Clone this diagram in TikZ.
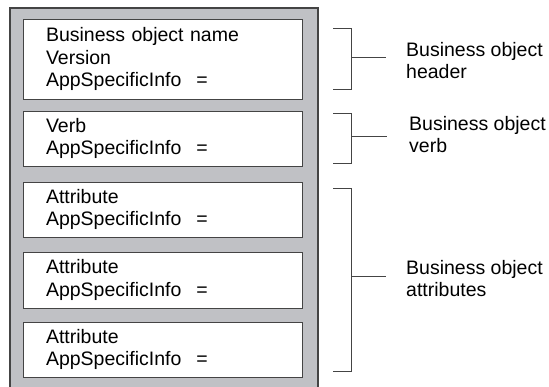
\documentclass[tikz,border=0pt]{standalone}
\usepackage{fontspec}
\setmainfont{Liberation Sans}
\usetikzlibrary{positioning}
\definecolor{panelgray}{RGB}{192,193,197}
\definecolor{linegray}{RGB}{68,68,68}
\tikzset{
  fieldbox/.style={draw=linegray,line width=1pt,fill=white,minimum width=279pt,
    text width=233pt,inner xsep=23pt,inner ysep=0pt,align=left,
    font=\fontsize{19.5}{22.5}\selectfont},
  sidelabel/.style={anchor=west,inner sep=0pt,align=left,
    font=\fontsize{19.5}{22}\selectfont},
  brace/.style={draw=linegray,line width=1pt}
}
\newcommand{\appinfo}{AppSpecificInfo\hspace{15pt}=}
\begin{document}
\begin{tikzpicture}[x=1pt,y=-1pt]
      \useasboundingbox (0,0) rectangle (549,386);
      %% Gray panel
      \fill[panelgray,draw=linegray,line width=1.3pt] (10,400) -- (10,8) -- (318,8) -- (318,400);
      %% Fields
      \node[fieldbox,minimum height=80pt] (hdr) at (162.5,59) {Business object name\\Version\\\appinfo};
      \node[fieldbox,minimum height=55pt,below=11pt of hdr] (verb) {Verb\\\appinfo};
      \node[fieldbox,minimum height=55pt,below=15pt of verb] (att1) {Attribute\\\appinfo};
      \node[fieldbox,minimum height=56pt,below=14pt of att1] (att2) {Attribute\\\appinfo};
      \node[fieldbox,minimum height=55pt,below=13pt of att2] (att3) {Attribute\\\appinfo};
      %% Labels
      \node[sidelabel] (lhdr) at (406,61) {Business object\\header};
      \node[sidelabel] (lverb) at (409,135) {Business object\\verb};
      \node[sidelabel] (latt) at (406,279) {Business object\\attributes};
      %% Brackets
      \coordinate (b1) at (351,57);
      \coordinate (b2) at (351,136);
      \coordinate (b3) at (351,276);
      \draw[brace] (333,28) -| (351,89) -- (333,89);
      \draw[brace] (b1) -- ([xshift=-20pt]lhdr.west |- b1);
      \draw[brace] (333,113) -| (351,163) -- (333,163);
      \draw[brace] (b2) -- ([xshift=-22pt]lverb.west |- b2);
      \draw[brace] (333,188) -| (351,371) -- (333,371);
      \draw[brace] (b3) -- ([xshift=-20pt]latt.west |- b3);
    \end{tikzpicture}
\end{document}
